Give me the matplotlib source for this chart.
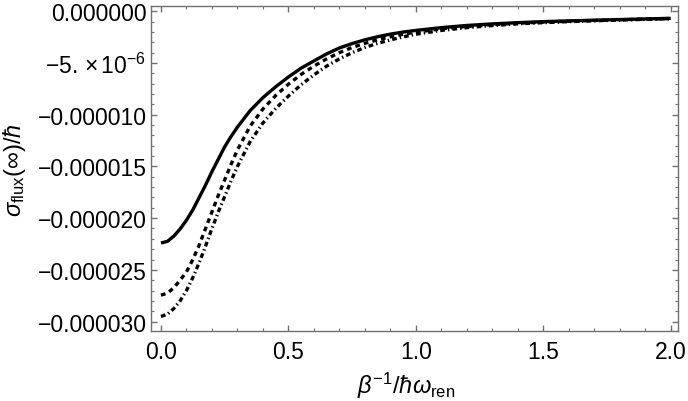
import matplotlib
matplotlib.use("Agg")
import matplotlib.pyplot as plt
from matplotlib.ticker import FixedLocator, FixedFormatter, MultipleLocator

plt.rcParams['font.family'] = ['Liberation Sans', 'DejaVu Sans']
plt.rcParams['mathtext.fontset'] = 'custom'
plt.rcParams['mathtext.rm'] = 'Liberation Sans'
plt.rcParams['mathtext.it'] = 'Liberation Sans:italic'
plt.rcParams['mathtext.bf'] = 'Liberation Sans:bold'
plt.rcParams['lines.scale_dashes'] = False

# data (y in units of 1e-6)
x_vals = [0, 0.025, 0.05, 0.075, 0.1, 0.125, 0.15, 0.175, 0.2, 0.225, 0.25, 0.275,
          0.3, 0.35, 0.4, 0.45, 0.5, 0.55, 0.6, 0.65, 0.7, 0.75, 0.8, 0.85, 0.9,
          0.95, 1.0, 1.1, 1.2, 1.3, 1.4, 1.5, 1.6, 1.7, 1.8, 1.9, 2.0]
solid = [-22.4, -22.25, -21.75, -21.05, -20.2, -19.2, -18.0, -16.8, -15.5, -14.3,
         -13.1, -12.1, -11.2, -9.6, -8.35, -7.3, -6.35, -5.5, -4.8, -4.12, -3.55,
         -3.12, -2.76, -2.46, -2.21, -2.01, -1.85, -1.58, -1.37, -1.22, -1.1,
         -1.0, -0.93, -0.86, -0.8, -0.74, -0.68]
dashed = [-27.45, -27.25, -26.75, -26.0, -25.2, -24.0, -22.6, -21.0, -19.4, -17.8,
          -16.3, -14.8, -13.4, -11.1, -9.45, -8.15, -7.05, -6.1, -5.3, -4.6, -4.0,
          -3.5, -3.1, -2.76, -2.47, -2.22, -2.02, -1.7, -1.46, -1.29, -1.15,
          -1.05, -0.96, -0.89, -0.82, -0.76, -0.7]
dashdot = [-29.5, -29.3, -28.75, -28.0, -27.0, -25.75, -24.3, -22.7, -21.0, -19.4,
           -17.9, -16.4, -15.0, -12.6, -10.8, -9.4, -8.2, -7.1, -6.15, -5.3, -4.6,
           -4.0, -3.5, -3.1, -2.77, -2.47, -2.22, -1.85, -1.58, -1.38, -1.22,
           -1.1, -1.0, -0.92, -0.85, -0.78, -0.72]

y_ticks = [0, -5e-6, -10e-6, -15e-6, -20e-6, -25e-6, -30e-6]
y_ticklabels = ['0.000000', r'$-5.\,{\times}\,10^{-6}$', '\u22120.000010', '\u22120.000015',
                '\u22120.000020', '\u22120.000025', '\u22120.000030']
x_ticks = [0.0, 0.5, 1.0, 1.5, 2.0]
x_ticklabels = ['0.0', '0.5', '1.0', '1.5', '2.0']

scale = 1e-6
fig = plt.figure(figsize=(6.88, 4.02), dpi=100)
ax = fig.add_axes([0.219, 0.1734, 0.767, 0.8084])

lw = 2.4
ax.plot(x_vals, [v * scale for v in solid], color='black', lw=lw, solid_capstyle='butt')
ax.plot(x_vals, [v * scale for v in dashed], color='black', lw=lw,
        linestyle=(0, (3.4, 3.0)))
ax.plot(x_vals, [v * scale for v in dashdot], color='black', lw=lw,
        linestyle=(0, (3.4, 2.2, 1.0, 2.2)))

ax.set_xlim(-0.0404, 2.030)
ax.set_ylim(-30.94e-6, 0.48e-6)

frame_col = '#707070'
for sp in ax.spines.values():
    sp.set_color(frame_col)
    sp.set_linewidth(1.0)

ax.xaxis.set_major_locator(FixedLocator(x_ticks))
ax.xaxis.set_major_formatter(FixedFormatter(x_ticklabels))
ax.xaxis.set_minor_locator(MultipleLocator(0.1))
ax.yaxis.set_major_locator(FixedLocator(y_ticks))
ax.yaxis.set_major_formatter(FixedFormatter(y_ticklabels))
ax.yaxis.set_minor_locator(MultipleLocator(1e-6))

ax.tick_params(which='both', direction='in', top=True, right=True, color=frame_col,
               labelsize=16.5, labelcolor='black')
ax.tick_params(which='major', length=4.5, width=1.0)
ax.tick_params(which='minor', length=2.5, width=0.8)
ax.tick_params(axis='x', which='major', pad=6)
ax.tick_params(axis='y', which='major', pad=3)

ax.set_xlabel(r'$\beta^{-1}/\hbar\omega_{\rm ren}$', fontsize=17)
ax.set_ylabel(r'$\sigma_{\rm flux}(\infty)/\hbar$', fontsize=17)
ax.xaxis.set_label_coords(0.484, -0.118)
ax.yaxis.set_label_coords(-0.232, 0.5)

fig.savefig('out.png', dpi=100)
